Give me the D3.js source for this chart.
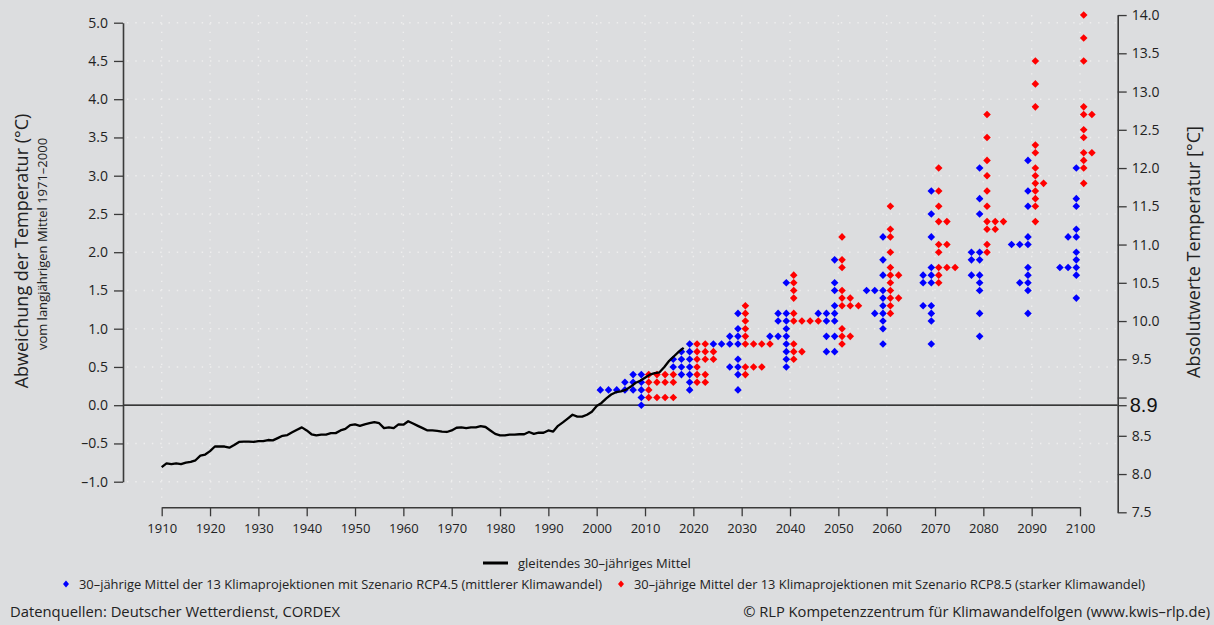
<!DOCTYPE html>
<html><head><meta charset="utf-8">
<script src="https://cdn.jsdelivr.net/npm/d3@7"></script>
<style>
body{margin:0;background:#dcdddf;}
svg{display:block;font-family:"Open Sans",sans-serif;}
</style>
</head><body>
<svg id="chart" width="1214" height="625"></svg>
<script>
// ---------- DATA ----------
const lineYears = d3.range(1910, 2019);
const lineValues = [
 -0.81,-0.76,-0.77,-0.76,-0.77,-0.75,-0.74,-0.72,-0.66,-0.645,
 -0.60,-0.54,-0.54,-0.54,-0.555,-0.52,-0.48,-0.475,-0.475,-0.48,
 -0.47,-0.47,-0.455,-0.46,-0.43,-0.40,-0.39,-0.355,-0.32,-0.29,
 -0.33,-0.38,-0.395,-0.385,-0.385,-0.365,-0.365,-0.33,-0.31,-0.26,
 -0.25,-0.27,-0.25,-0.235,-0.22,-0.235,-0.30,-0.29,-0.30,-0.25,
 -0.255,-0.21,-0.24,-0.27,-0.30,-0.33,-0.33,-0.335,-0.345,-0.35,
 -0.33,-0.295,-0.29,-0.30,-0.29,-0.29,-0.275,-0.285,-0.33,-0.375,
 -0.395,-0.395,-0.385,-0.385,-0.38,-0.38,-0.35,-0.375,-0.36,-0.36,
 -0.33,-0.345,-0.27,-0.225,-0.175,-0.125,-0.15,-0.15,-0.125,-0.085,
 -0.01,0.03,0.09,0.14,0.17,0.18,0.20,0.24,0.29,0.32,
 0.36,0.40,0.42,0.43,0.50,0.58,0.64,0.70,0.75
];

const decades = [2010,2020,2030,2040,2050,2060,2070,2080,2090,2100];

const rcp45 = [
 [0.4,0.4,0.3,0.3,0.3,0.2,0.2,0.2,0.2,0.2,0.2,0.1,0.0],
 [0.8,0.7,0.7,0.6,0.6,0.6,0.5,0.5,0.5,0.4,0.4,0.3,0.2],
 [1.2,1.0,0.9,0.9,0.8,0.8,0.8,0.8,0.6,0.5,0.5,0.4,0.2],
 [1.6,1.2,1.2,1.1,1.1,1.0,0.9,0.9,0.9,0.8,0.7,0.6,0.5],
 [1.9,1.6,1.5,1.3,1.2,1.2,1.2,1.1,1.1,0.9,0.9,0.7,0.7],
 [2.2,1.9,1.7,1.5,1.5,1.5,1.4,1.3,1.2,1.2,1.1,1.0,0.8],
 [2.8,2.5,2.2,1.8,1.7,1.7,1.6,1.6,1.3,1.3,1.2,1.1,0.8],
 [3.1,2.7,2.5,2.0,2.0,1.9,1.9,1.7,1.7,1.6,1.5,1.2,0.9],
 [3.2,2.8,2.6,2.2,2.1,2.1,2.1,1.8,1.7,1.6,1.6,1.5,1.2],
 [3.1,2.7,2.6,2.3,2.2,2.2,2.0,1.9,1.8,1.8,1.8,1.7,1.4]
];

const rcp85 = [
 [0.4,0.4,0.4,0.4,0.3,0.3,0.3,0.3,0.2,0.1,0.1,0.1,0.1],
 [0.8,0.8,0.7,0.7,0.7,0.6,0.6,0.6,0.5,0.4,0.4,0.3,0.3],
 [1.3,1.2,1.1,1.0,0.9,0.8,0.8,0.8,0.8,0.5,0.5,0.5,0.4],
 [1.7,1.6,1.5,1.4,1.2,1.1,1.1,1.1,1.1,0.8,0.7,0.7,0.6],
 [2.2,1.9,1.8,1.5,1.4,1.4,1.3,1.3,1.3,1.0,0.9,0.9,0.8],
 [2.6,2.3,2.2,2.0,1.8,1.7,1.7,1.6,1.5,1.4,1.4,1.3,1.2],
 [3.1,2.8,2.6,2.4,2.4,2.1,2.1,2.0,1.8,1.8,1.8,1.7,1.6],
 [3.8,3.5,3.2,3.0,2.8,2.6,2.4,2.4,2.4,2.3,2.3,2.1,2.0],
 [4.5,4.2,3.9,3.4,3.3,3.1,3.0,2.9,2.9,2.8,2.7,2.6,2.4],
 [5.1,4.8,4.5,3.9,3.8,3.8,3.6,3.5,3.3,3.3,3.2,3.1,2.9]
];

const leftTicks = [-1.0,-0.5,0.0,0.5,1.0,1.5,2.0,2.5,3.0,3.5,4.0,4.5,5.0];
const rightTicks = [7.5,8.0,8.5,9.0,9.5,10.0,10.5,11.0,11.5,12.0,12.5,13.0,13.5,14.0];
const rightRef = 8.9;
const xTicks = d3.range(1910, 2101, 10);

const texts = {
  yTitle: "Abweichung der Temperatur (°C)",
  ySub: "vom langjährigen Mittel 1971–2000",
  yRightTitle: "Absolutwerte Temperatur [°C]",
  legLine: "gleitendes 30–jähriges Mittel",
  leg45: "30–jährige Mittel der 13 Klimaprojektionen mit Szenario RCP4.5 (mittlerer Klimawandel)",
  leg85: "30–jährige Mittel der 13 Klimaprojektionen mit Szenario RCP8.5 (starker Klimawandel)",
  srcL: "Datenquellen: Deutscher Wetterdienst, CORDEX",
  srcR: "© RLP Kompetenzzentrum für Klimawandelfolgen (www.kwis–rlp.de)"
};

// ---------- LAYOUT ----------
const svg = d3.select("#chart");
const axisColor = "#3a3a3a";
const blue = "#0000ff", red = "#ff0000";

const x = d3.scaleLinear().domain([1910, 2100]).range([161.7, 1080]);
const y = d3.scaleLinear().domain([-1, 5]).range([481.7, 22.7]);
const yR = d3.scaleLinear().domain([rightRef - 1.4, rightRef + 5.1]).range([y(-1.4), y(5.1)]);
const leftX = 123, rightX = 1117.7, axisY = 507.3;

// grid
const grid = svg.append("g");
grid.selectAll("line.h").data(leftTicks.filter(d => d !== 0)).join("line")
  .attr("x1", leftX + 4).attr("x2", rightX - 2)
  .attr("y1", d => y(d)).attr("y2", d => y(d))
  .attr("stroke", "#eeeeee").attr("stroke-width", 1.4).attr("stroke-dasharray", "1.4,6.9");
grid.selectAll("line.v").data(xTicks).join("line")
  .attr("x1", d => x(d)).attr("x2", d => x(d))
  .attr("y1", y(5.1)).attr("y2", axisY - 3)
  .attr("stroke", "#eeeeee").attr("stroke-width", 1.4).attr("stroke-dasharray", "1.4,6.9");

// zero line
svg.append("line").attr("x1", leftX).attr("x2", rightX)
  .attr("y1", y(0)).attr("y2", y(0)).attr("stroke", "#000").attr("stroke-width", 1.2);

// axes
function styleAxis(g, fs) {
  g.selectAll(".domain").attr("stroke", axisColor).attr("stroke-width", 1.6);
  g.selectAll(".tick line").attr("stroke", axisColor).attr("stroke-width", 1.3);
  g.selectAll(".tick text").attr("fill", "#222").style("font-size", fs + "px")
    .style("font-family", "'Open Sans',sans-serif");
}
const gL = svg.append("g").attr("transform", `translate(${leftX},0)`)
  .call(d3.axisLeft(y).tickValues(leftTicks).tickFormat(d => d3.format(".1f")(d).replace("−", "–"))
    .tickSize(9).tickSizeOuter(0).tickPadding(6));
styleAxis(gL, 14);

const gR = svg.append("g").attr("transform", `translate(${rightX},0)`)
  .call(d3.axisRight(yR).tickValues(rightTicks.concat([rightRef]))
    .tickFormat(d => (d === 9.0 || d === rightRef) ? "" : d3.format(".1f")(d))
    .tickSize(9).tickSizeOuter(0).tickPadding(5));
styleAxis(gR, 14);
gR.append("text").attr("x", 12).attr("y", yR(rightRef)).attr("dy", "0.36em")
  .attr("fill", "#111").style("font-size", "20px").text(rightRef.toFixed(1));

const gX = svg.append("g").attr("transform", `translate(0,${axisY})`)
  .call(d3.axisBottom(x).tickValues(xTicks).tickFormat(d3.format("d"))
    .tickSize(9).tickSizeOuter(0).tickPadding(7));
styleAxis(gX, 13);

// axis titles
svg.append("text").attr("transform", `translate(28,251) rotate(-90)`)
  .attr("text-anchor", "middle").attr("fill", "#222").style("font-size", "18px").text(texts.yTitle);
svg.append("text").attr("transform", `translate(47,244) rotate(-90)`)
  .attr("text-anchor", "middle").attr("fill", "#222").style("font-size", "13px").text(texts.ySub);
svg.append("text").attr("transform", `translate(1200,252) rotate(-90)`)
  .attr("text-anchor", "middle").attr("fill", "#222").style("font-size", "18px").text(texts.yRightTitle);

// points (dot plot: equal values stacked sideways)
const diamond = "M0,-3.8L3.8,0L0,3.8L-3.8,0Z";
function layout(series, dir) {
  const pts = [];
  series.forEach((vals, i) => {
    const seen = {};
    vals.forEach(v => {
      const k = v.toFixed(1);
      const n = seen[k] || 0; seen[k] = n + 1;
      pts.push({ px: x(decades[i]) + dir * (3.7 + n * 8.2), py: y(v) });
    });
  });
  return pts;
}
svg.append("g").selectAll("path").data(layout(rcp45, -1)).join("path")
  .attr("d", diamond).attr("transform", d => `translate(${d.px},${d.py})`).attr("fill", blue);
svg.append("g").selectAll("path").data(layout(rcp85, 1)).join("path")
  .attr("d", diamond).attr("transform", d => `translate(${d.px},${d.py})`).attr("fill", red);

// moving average line
const lineGen = d3.line().x((d, i) => x(lineYears[i])).y(d => y(d));
svg.append("path").datum(lineValues).attr("d", lineGen)
  .attr("fill", "none").attr("stroke", "#000").attr("stroke-width", 2.3).attr("stroke-linejoin", "round");

// legend
svg.append("line").attr("x1", 483).attr("x2", 508).attr("y1", 563).attr("y2", 563)
  .attr("stroke", "#000").attr("stroke-width", 3);
svg.append("text").attr("x", 518).attr("y", 567.5).attr("fill", "#222").style("font-size", "13px").text(texts.legLine);
svg.append("path").attr("d", "M0,-3.5L3,0L0,3.5L-3,0Z").attr("transform", "translate(66,584)").attr("fill", blue);
svg.append("text").attr("x", 79).attr("y", 588.5).attr("fill", "#222").style("font-size", "12.9px").text(texts.leg45);
svg.append("path").attr("d", "M0,-3.5L3,0L0,3.5L-3,0Z").attr("transform", "translate(621,584)").attr("fill", red);
svg.append("text").attr("x", 634).attr("y", 588.5).attr("fill", "#222").style("font-size", "12.85px").text(texts.leg85);

// sources
svg.append("text").attr("x", 10).attr("y", 617).attr("fill", "#222").style("font-size", "14.8px").text(texts.srcL);
svg.append("text").attr("x", 1210).attr("y", 617).attr("text-anchor", "end").attr("fill", "#222").style("font-size", "14.7px").text(texts.srcR);
</script>
</body></html>
